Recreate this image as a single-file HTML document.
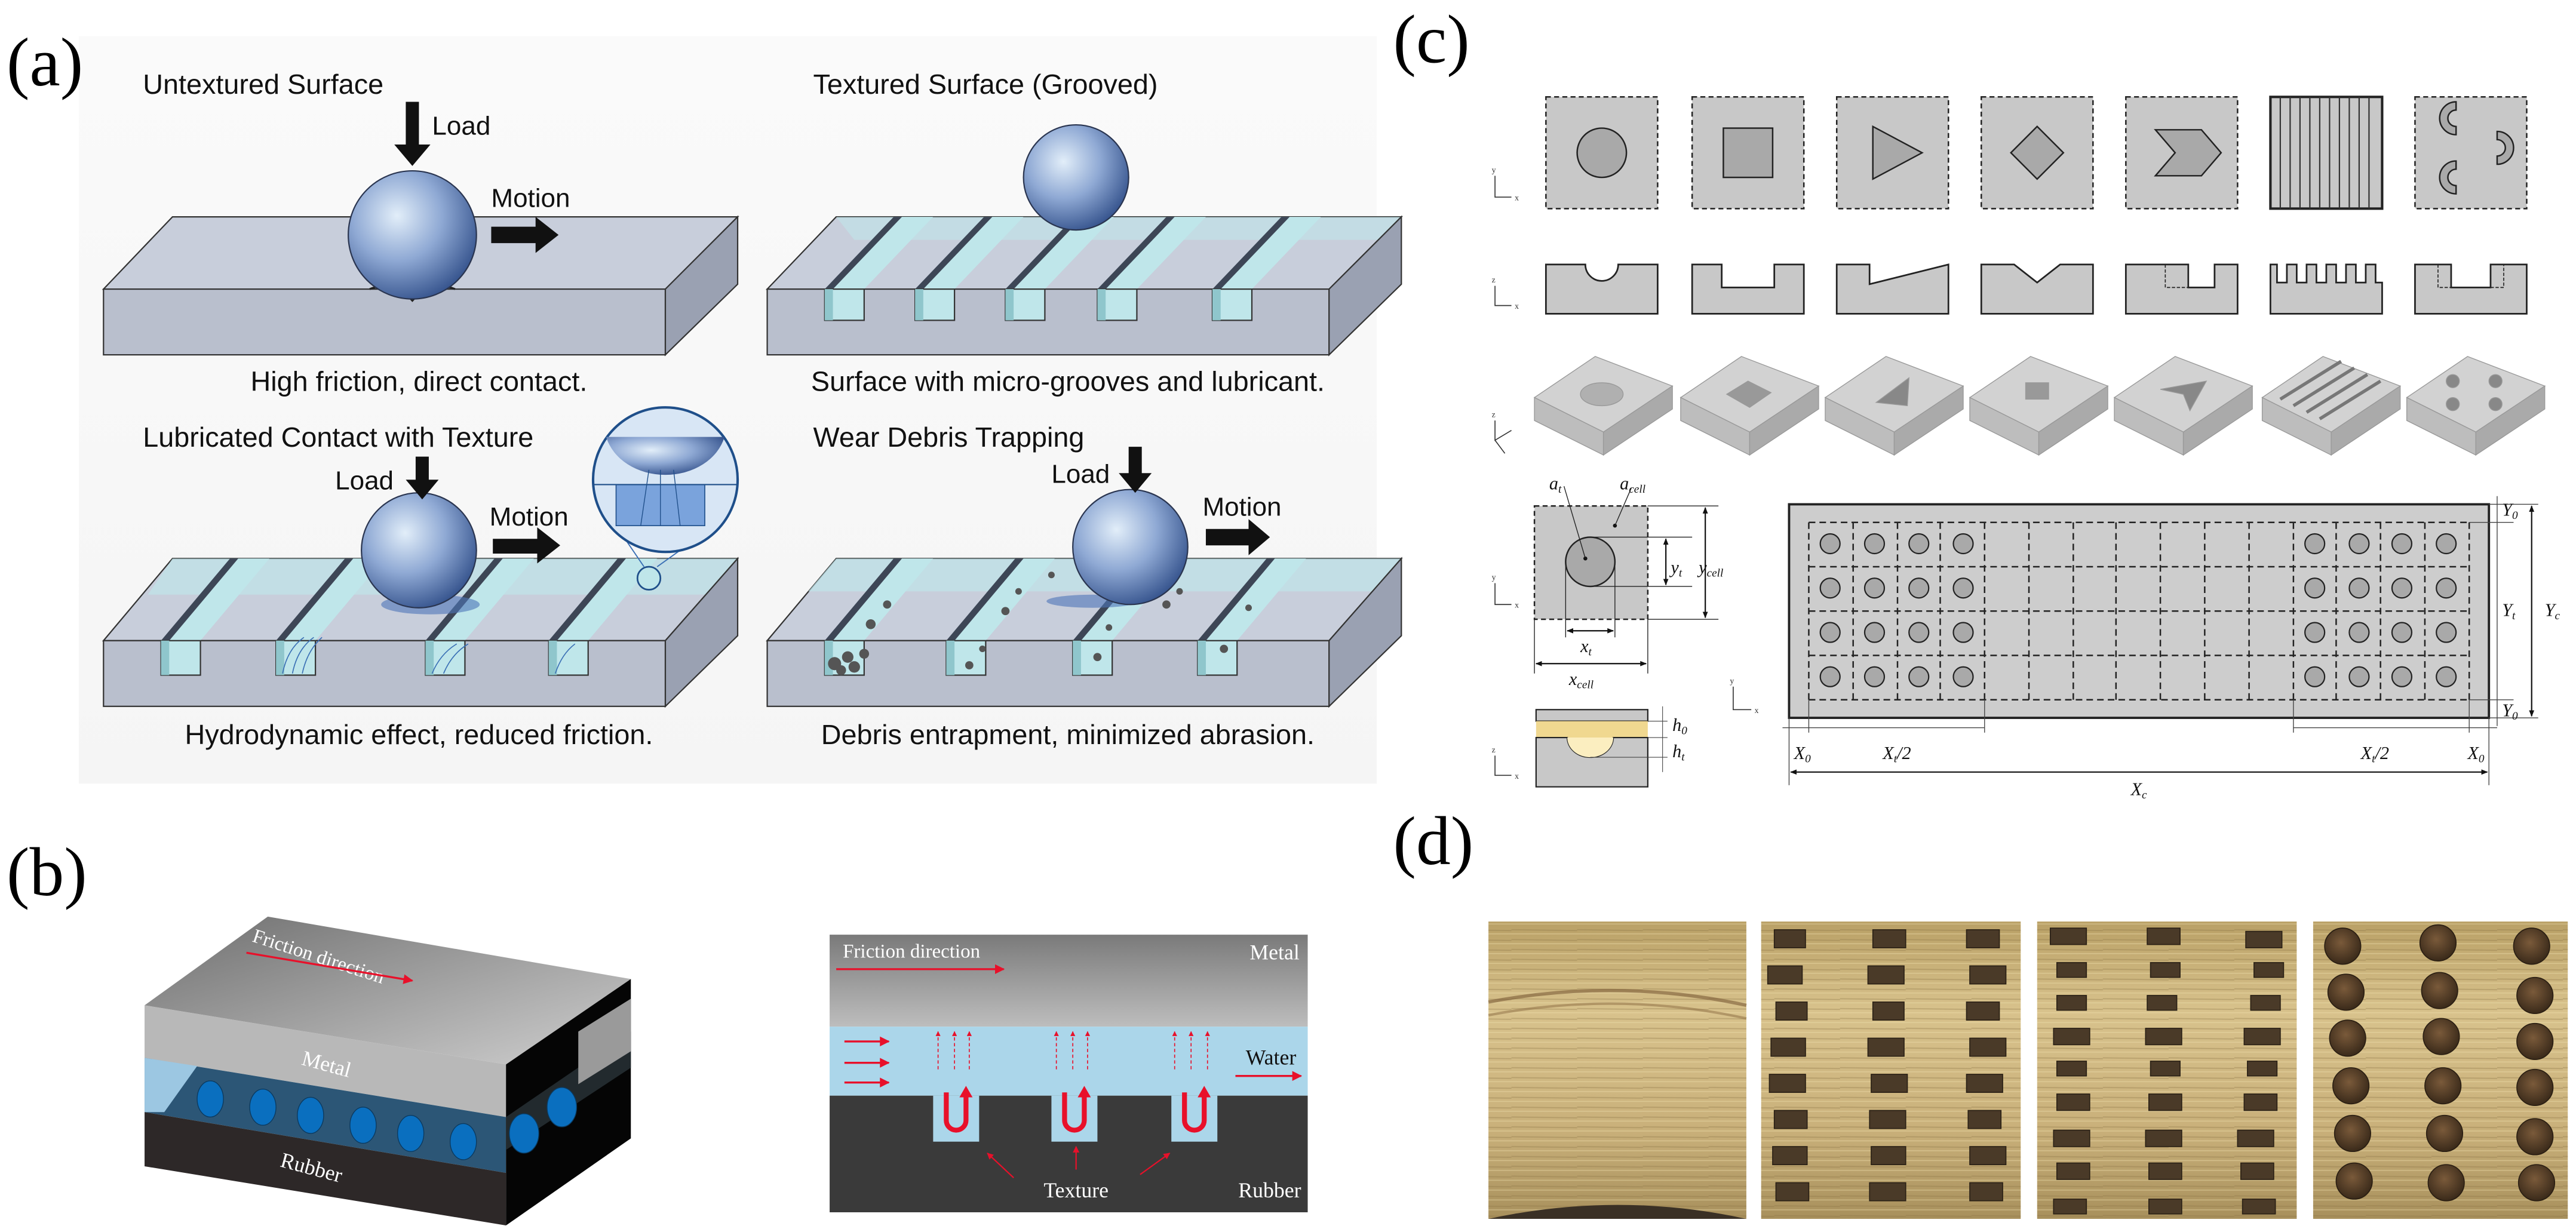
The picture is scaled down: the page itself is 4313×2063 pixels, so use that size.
<!DOCTYPE html>
<html><head><meta charset="utf-8"><style>
html,body{margin:0;padding:0;background:#fff;}
svg{display:block;}
.s{font-family:"Liberation Sans Narrow","Liberation Sans",sans-serif;fill:#111;}
.r{font-family:"Liberation Serif",serif;}
</style></head><body>
<svg width="4313" height="2063" viewBox="0 0 1568 750" preserveAspectRatio="none" xmlns="http://www.w3.org/2000/svg">
<defs>
<radialGradient id="sph" cx="38%" cy="35%" r="70%">
<stop offset="0" stop-color="#e2eef9"/><stop offset="0.5" stop-color="#8fa9d4"/><stop offset="1" stop-color="#34528c"/></radialGradient>
<linearGradient id="bgA" x1="0" y1="0" x2="0" y2="1"><stop offset="0" stop-color="#fafafa"/><stop offset="1" stop-color="#f5f5f5"/></linearGradient>
<linearGradient id="metal" x1="0" y1="0" x2="0" y2="1"><stop offset="0" stop-color="#7a7a7a"/><stop offset="1" stop-color="#bdbdbd"/></linearGradient>
<linearGradient id="metal3" x1="0" y1="0" x2="1" y2="1"><stop offset="0" stop-color="#6f6f6f"/><stop offset="1" stop-color="#cfcfcf"/></linearGradient>
<linearGradient id="photo" x1="0" y1="0" x2="0" y2="1"><stop offset="0" stop-color="#b9a066"/><stop offset="0.3" stop-color="#d8c28c"/><stop offset="0.7" stop-color="#c9b07a"/><stop offset="1" stop-color="#a8905c"/></linearGradient>
<pattern id="streak" width="40" height="6" patternUnits="userSpaceOnUse"><rect width="40" height="6" fill="none"/><line x1="0" y1="2" x2="40" y2="2.5" stroke="#8a7245" stroke-opacity="0.35" stroke-width="0.7"/><line x1="0" y1="4.5" x2="40" y2="4.5" stroke="#f0e0b0" stroke-opacity="0.4" stroke-width="0.6"/></pattern>
<radialGradient id="dimp" cx="45%" cy="40%" r="60%"><stop offset="0" stop-color="#7a5a3a"/><stop offset="1" stop-color="#3a2a1a"/></radialGradient>
<g id="gT"><polygon points="0,176 24,176 66,132 42,132" fill="#bfe6ea"/><polygon points="0,176 42,132 47,132 5,176" fill="#3d4656"/><rect x="0" y="176" width="24" height="19" fill="#bfe6ea" stroke="#333" stroke-width="0.8"/><polygon points="0,176 5,176 5,195 0,195" fill="#8fc6cc"/></g>
<g id="gB"><polygon points="0,390 24,390 66,340 42,340" fill="#bfe6ea"/><polygon points="0,390 42,340 47,340 5,390" fill="#3d4656"/><rect x="0" y="390" width="24" height="21" fill="#bfe6ea" stroke="#333" stroke-width="0.8"/><polygon points="0,390 5,390 5,411 0,411" fill="#8fc6cc"/></g>
<marker id="ra" viewBox="0 0 10 10" refX="9" refY="5" markerWidth="5" markerHeight="5" orient="auto"><path d="M0,0L10,5L0,10z" fill="#e8102a"/></marker>
<marker id="ka" viewBox="0 0 10 10" refX="9" refY="5" markerWidth="5" markerHeight="5" orient="auto-start-reverse"><path d="M0,1L10,5L0,9z" fill="#111"/></marker>
</defs>
<rect width="1568" height="750" fill="#fff"/>
<!-- panel a -->
<rect x="48" y="22" width="790" height="455" fill="url(#bgA)"/>
<text x="4" y="52" class="r" font-size="42">(a)</text>
<text x="87" y="57" class="s" font-size="17">Untextured Surface</text>
<text x="495" y="57" class="s" font-size="17">Textured Surface (Grooved)</text>
<text x="87" y="272" class="s" font-size="17">Lubricated Contact with Texture</text>
<text x="495" y="272" class="s" font-size="17">Wear Debris Trapping</text>
<text x="255" y="238" class="s" font-size="17" text-anchor="middle">High friction, direct contact.</text>
<text x="650" y="238" class="s" font-size="17" text-anchor="middle">Surface with micro-grooves and lubricant.</text>
<text x="255" y="453" class="s" font-size="17" text-anchor="middle">Hydrodynamic effect, reduced friction.</text>
<text x="650" y="453" class="s" font-size="17" text-anchor="middle">Debris entrapment, minimized abrasion.</text>
<!-- block A -->
<polygon points="63,176 105,132 449,132 405,176" fill="#c8cedb" stroke="#333" stroke-width="0.8"/>
<rect x="63" y="176" width="342" height="40" fill="#b9bfcd" stroke="#333" stroke-width="0.8"/>
<polygon points="405,176 449,132 449,173 405,216" fill="#9aa1b2" stroke="#333" stroke-width="0.8"/>
<path d="M225,176 Q240,170 251,183 Q262,170 277,176" fill="none" stroke="#222" stroke-width="1.2"/>
<circle cx="251" cy="143" r="39" fill="url(#sph)" stroke="#2a3550" stroke-width="0.8"/>
<polygon points="247,62 255,62 255,88 262,88 251,101 240,88 247,88" fill="#111"/>
<text x="263" y="82" class="s" font-size="16">Load</text>
<text x="299" y="126" class="s" font-size="16">Motion</text>
<polygon points="299,138 326,138 326,132 340,143 326,154 326,148 299,148" fill="#111"/>
<!-- block B -->
<polygon points="467,176 509,132 853,132 809,176" fill="#c8cedb" stroke="#333" stroke-width="0.8"/>
<polygon points="509,132 853,132 840,146 520,146" fill="#bfe6ea" opacity="0.6"/>
<rect x="467" y="176" width="342" height="40" fill="#b9bfcd" stroke="#333" stroke-width="0.8"/>
<polygon points="809,176 853,132 853,173 809,216" fill="#9aa1b2" stroke="#333" stroke-width="0.8"/>
<use href="#gT" x="502"/><use href="#gT" x="557"/><use href="#gT" x="612"/><use href="#gT" x="668"/><use href="#gT" x="738"/>
<circle cx="655" cy="108" r="32" fill="url(#sph)" stroke="#2a3550" stroke-width="0.8"/>
<!-- block C -->
<polygon points="63,390 105,340 449,340 405,390" fill="#c8cedb" stroke="#333" stroke-width="0.8"/>
<polygon points="105,340 449,340 430,362 90,362" fill="#bfe6ea" opacity="0.7"/>
<rect x="63" y="390" width="342" height="40" fill="#b9bfcd" stroke="#333" stroke-width="0.8"/>
<polygon points="405,390 449,340 449,387 405,430" fill="#9aa1b2" stroke="#333" stroke-width="0.8"/>
<use href="#gB" x="98"/><use href="#gB" x="168"/><use href="#gB" x="259"/><use href="#gB" x="334"/>
<g stroke="#3a6fb5" stroke-width="0.6" fill="none"><path d="M172,410 Q175,395 185,388"/><path d="M178,410 Q181,395 191,388"/><path d="M184,410 Q187,396 196,388"/><path d="M263,410 Q268,398 278,392"/><path d="M270,410 Q275,398 285,392"/><path d="M338,410 Q342,398 350,392"/></g>
<ellipse cx="262" cy="368" rx="30" ry="6" fill="#4d74b8" opacity="0.6"/>
<circle cx="255" cy="335" r="35" fill="url(#sph)" stroke="#2a3550" stroke-width="0.8"/>
<polygon points="253,278 261,278 261,292 267,292 257,304 247,292 253,292" fill="#111"/>
<text x="204" y="298" class="s" font-size="16">Load</text>
<text x="298" y="320" class="s" font-size="16">Motion</text>
<polygon points="300,328 327,328 327,321 341,332 327,343 327,337 300,337" fill="#111"/>
<line x1="375" y1="320" x2="392" y2="345" stroke="#3a6fb5" stroke-width="0.7"/>
<line x1="435" y1="320" x2="400" y2="345" stroke="#3a6fb5" stroke-width="0.7"/>
<circle cx="395" cy="352" r="7" fill="#bfe6ea" stroke="#1f4f8a" stroke-width="1"/>
<circle cx="405" cy="292" r="44" fill="#d8e6f5" stroke="#1f4f8a" stroke-width="1.5"/>
<path d="M369,266 A37,30 0 0 0 441,266 Z" fill="url(#sph)"/>
<rect x="375" y="295" width="54" height="25" fill="#7aa3dc" stroke="#1f4f8a" stroke-width="0.6"/>
<line x1="361" y1="295" x2="449" y2="295" stroke="#1f4f8a" stroke-width="0.8"/>
<g stroke="#1f4f8a" stroke-width="0.5"><line x1="390" y1="320" x2="395" y2="286"/><line x1="402" y1="320" x2="402" y2="286"/><line x1="414" y1="320" x2="410" y2="286"/></g>
<!-- block D -->
<polygon points="467,390 509,340 853,340 809,390" fill="#c8cedb" stroke="#333" stroke-width="0.8"/>
<polygon points="509,340 853,340 835,360 492,360" fill="#bfe6ea" opacity="0.7"/>
<rect x="467" y="390" width="342" height="40" fill="#b9bfcd" stroke="#333" stroke-width="0.8"/>
<polygon points="809,390 853,340 853,387 809,430" fill="#9aa1b2" stroke="#333" stroke-width="0.8"/>
<use href="#gB" x="502"/><use href="#gB" x="576"/><use href="#gB" x="653"/><use href="#gB" x="729"/>
<g fill="#555"><circle cx="508" cy="404" r="4"/><circle cx="516" cy="400" r="3.5"/><circle cx="512" cy="408" r="3"/><circle cx="520" cy="406" r="3.5"/><circle cx="526" cy="398" r="3"/><circle cx="530" cy="380" r="3"/><circle cx="540" cy="368" r="2.5"/><circle cx="590" cy="405" r="2.5"/><circle cx="598" cy="395" r="2"/><circle cx="612" cy="372" r="2.5"/><circle cx="620" cy="360" r="2"/><circle cx="668" cy="400" r="2.5"/><circle cx="675" cy="382" r="2"/><circle cx="710" cy="368" r="2.5"/><circle cx="718" cy="360" r="2"/><circle cx="745" cy="395" r="2.5"/><circle cx="760" cy="370" r="2"/><circle cx="640" cy="350" r="2"/></g>
<ellipse cx="665" cy="366" rx="28" ry="4" fill="#4d74b8" opacity="0.6"/>
<circle cx="688" cy="333" r="35" fill="url(#sph)" stroke="#2a3550" stroke-width="0.8"/>
<polygon points="687,272 695,272 695,288 701,288 691,300 681,288 687,288" fill="#111"/>
<text x="640" y="294" class="s" font-size="16">Load</text>
<text x="732" y="314" class="s" font-size="16">Motion</text>
<polygon points="734,322 760,322 760,316 773,327 760,338 760,332 734,332" fill="#111"/>
<!-- panel b -->
<text x="4" y="545" class="r" font-size="42">(b)</text>
<polygon points="163,558 384,596 308,648 88,612" fill="url(#metal3)"/>
<polygon points="88,612 308,648 308,680 88,644" fill="#b8b8b8"/>
<polygon points="88,644 308,680 308,714 88,677" fill="#2c5676"/>
<polygon points="88,644 120,649 100,677 88,677" fill="#9cc7e2"/>
<polygon points="88,677 308,714 308,746 88,710" fill="#2d2828"/>
<polygon points="308,648 384,596 384,693 308,746" fill="#050505"/>
<polygon points="308,680 384,628 384,650 308,700" fill="#222a2e"/>
<polygon points="352,628 384,608 384,640 352,660" fill="#9a9a9a"/>
<g fill="#0a6fbf" stroke="#0a3a60" stroke-width="0.5">
<ellipse cx="128" cy="669" rx="8" ry="11"/><ellipse cx="160" cy="674" rx="8" ry="11"/><ellipse cx="189" cy="679" rx="8" ry="11"/><ellipse cx="221" cy="685" rx="8" ry="11"/><ellipse cx="250" cy="690" rx="8" ry="11"/><ellipse cx="282" cy="695" rx="8" ry="11"/><ellipse cx="319" cy="690" rx="9" ry="12"/><ellipse cx="342" cy="674" rx="9" ry="12"/></g>
<text x="0" y="0" class="r" font-size="12" fill="#fff" transform="translate(153,573) rotate(18)">Friction direction</text>
<line x1="150" y1="580" x2="251" y2="597" stroke="#e8102a" stroke-width="1.2" marker-end="url(#ra)"/>
<text x="0" y="0" class="r" font-size="13" fill="#fff" transform="translate(183,648) rotate(15)">Metal</text>
<text x="0" y="0" class="r" font-size="13" fill="#fff" transform="translate(170,710) rotate(15)">Rubber</text>
<rect x="505" y="569" width="291" height="56" fill="url(#metal)"/>
<rect x="505" y="625" width="291" height="42" fill="#abd6ea"/>
<rect x="505" y="667" width="291" height="71" fill="#3a3a3a"/>
<rect x="568" y="667" width="28" height="28" fill="#abd6ea"/><rect x="640" y="667" width="28" height="28" fill="#abd6ea"/><rect x="713" y="667" width="28" height="28" fill="#abd6ea"/>
<g fill="none" stroke="#e8102a" stroke-width="3"><path d="M576,665 V682 A6,6 0 0 0 588,682 V668"/><path d="M648,665 V682 A6,6 0 0 0 660,682 V668"/><path d="M721,665 V682 A6,6 0 0 0 733,682 V668"/></g>
<g fill="#e8102a"><polygon points="584,668 592,668 588,661"/><polygon points="656,668 664,668 660,661"/><polygon points="729,668 737,668 733,661"/></g>
<text x="513" y="583" class="r" font-size="12" fill="#fff">Friction direction</text>
<line x1="509" y1="590" x2="611" y2="590" stroke="#e8102a" stroke-width="1.2" marker-end="url(#ra)"/>
<text x="791" y="584" class="r" font-size="13" fill="#fff" text-anchor="end">Metal</text>
<text x="789" y="648" class="r" font-size="13" fill="#111" text-anchor="end">Water</text>
<line x1="752" y1="655" x2="792" y2="655" stroke="#e8102a" stroke-width="1.2" marker-end="url(#ra)"/>
<g stroke="#e8102a" stroke-width="1.2"><line x1="514" y1="634" x2="541" y2="634" marker-end="url(#ra)"/><line x1="514" y1="647" x2="541" y2="647" marker-end="url(#ra)"/><line x1="514" y1="659" x2="541" y2="659" marker-end="url(#ra)"/></g>
<g stroke="#e8102a" stroke-width="0.6" stroke-dasharray="2,1.5"><line x1="571" y1="651" x2="571" y2="628" marker-end="url(#ra)"/><line x1="581" y1="651" x2="581" y2="628" marker-end="url(#ra)"/><line x1="590" y1="651" x2="590" y2="628" marker-end="url(#ra)"/><line x1="643" y1="651" x2="643" y2="628" marker-end="url(#ra)"/><line x1="653" y1="651" x2="653" y2="628" marker-end="url(#ra)"/><line x1="662" y1="651" x2="662" y2="628" marker-end="url(#ra)"/><line x1="715" y1="651" x2="715" y2="628" marker-end="url(#ra)"/><line x1="725" y1="651" x2="725" y2="628" marker-end="url(#ra)"/><line x1="735" y1="651" x2="735" y2="628" marker-end="url(#ra)"/></g>
<g stroke="#e8102a" stroke-width="0.8"><line x1="617" y1="717" x2="601" y2="702" marker-end="url(#ra)"/><line x1="655" y1="712" x2="655" y2="698" marker-end="url(#ra)"/><line x1="694" y1="715" x2="712" y2="702" marker-end="url(#ra)"/></g>
<text x="655" y="729" class="r" font-size="13" fill="#fff" text-anchor="middle">Texture</text>
<text x="792" y="729" class="r" font-size="13" fill="#fff" text-anchor="end">Rubber</text>
<!-- panel c -->
<text x="848" y="38" class="r" font-size="42">(c)</text>
<g fill="#c8c8c8" stroke="#222" stroke-width="0.9" stroke-dasharray="3,2">
<rect x="941" y="59" width="68" height="68"/><rect x="1030" y="59" width="68" height="68"/><rect x="1118" y="59" width="68" height="68"/><rect x="1206" y="59" width="68" height="68"/><rect x="1294" y="59" width="68" height="68"/><rect x="1470" y="59" width="68" height="68"/></g>
<rect x="1382" y="59" width="68" height="68" fill="#c8c8c8" stroke="#222" stroke-width="1.5"/>
<g stroke="#333" stroke-width="0.8">
<line x1="1388" y1="59" x2="1388" y2="127"/><line x1="1394" y1="59" x2="1394" y2="127"/><line x1="1400" y1="59" x2="1400" y2="127"/><line x1="1406" y1="59" x2="1406" y2="127"/><line x1="1412" y1="59" x2="1412" y2="127"/><line x1="1418" y1="59" x2="1418" y2="127"/><line x1="1424" y1="59" x2="1424" y2="127"/><line x1="1430" y1="59" x2="1430" y2="127"/><line x1="1436" y1="59" x2="1436" y2="127"/><line x1="1442" y1="59" x2="1442" y2="127"/></g>
<g fill="#a9a9a9" stroke="#222" stroke-width="0.9">
<circle cx="975" cy="93" r="15"/><rect x="1049" y="78" width="30" height="30"/><polygon points="1140,77 1170,93 1140,109"/><polygon points="1240,77 1256,93 1240,109 1224,93"/><polygon points="1312,79 1340,79 1352,93 1340,107 1312,107 1324,93"/>
<path d="M1495,62 A10,10 0 0 0 1495,82 L1495,77 A5,5 0 0 1 1495,67 Z"/><path d="M1520,80 A10,10 0 0 1 1520,100 L1520,95 A5,5 0 0 0 1520,85 Z"/><path d="M1495,98 A10,10 0 0 0 1495,118 L1495,113 A5,5 0 0 1 1495,103 Z"/></g>
<g fill="#c8c8c8" stroke="#222" stroke-width="1">
<path d="M941,161 H965 A10,10 0 0 0 985,161 H1009 V191 H941 Z"/>
<path d="M1030,161 H1048 V175 H1080 V161 H1098 V191 H1030 Z"/>
<path d="M1118,161 H1138 V173 L1186,161 V191 H1118 Z"/>
<path d="M1206,161 H1226 L1240,172 L1254,161 H1274 V191 H1206 Z"/>
<path d="M1294,161 H1332 V175 H1348 V161 H1362 V191 H1294 Z"/>
<path d="M1382,161 H1386 V172 H1392 V161 H1398 V172 H1404 V161 H1410 V172 H1416 V161 H1422 V172 H1428 V161 H1434 V172 H1440 V161 H1446 V172 H1450 V191 H1382 Z"/>
<path d="M1470,161 H1492 V175 H1516 V161 H1538 V191 H1470 Z"/></g>
<g stroke="#222" stroke-width="0.6" stroke-dasharray="2,1" fill="none"><path d="M1318,161 V175 H1332"/><path d="M1484,161 V175 H1492 M1516,175 H1524 V161"/></g>
<!-- 3D row -->
<g stroke="#999" stroke-width="0.5">
<g><polygon points="934,242 971,217 1018,235 976,263" fill="#d2d2d2"/><polygon points="934,242 976,263 976,277 934,256" fill="#bdbdbd"/><polygon points="976,263 1018,235 1018,249 976,277" fill="#aaa"/><ellipse cx="975" cy="240" rx="13" ry="7" fill="#b0b0b0"/></g>
<g transform="translate(89,0)"><polygon points="934,242 971,217 1018,235 976,263" fill="#d2d2d2"/><polygon points="934,242 976,263 976,277 934,256" fill="#bdbdbd"/><polygon points="976,263 1018,235 1018,249 976,277" fill="#aaa"/><polygon points="962,240 975,232 989,239 976,248" fill="#999"/></g>
<g transform="translate(177,0)"><polygon points="934,242 971,217 1018,235 976,263" fill="#d2d2d2"/><polygon points="934,242 976,263 976,277 934,256" fill="#bdbdbd"/><polygon points="976,263 1018,235 1018,249 976,277" fill="#aaa"/><polygon points="965,245 985,230 984,247" fill="#888"/></g>
<g transform="translate(265,0)"><polygon points="934,242 971,217 1018,235 976,263" fill="#d2d2d2"/><polygon points="934,242 976,263 976,277 934,256" fill="#bdbdbd"/><polygon points="976,263 1018,235 1018,249 976,277" fill="#aaa"/><rect x="968" y="233" width="14" height="10" fill="#999"/></g>
<g transform="translate(353,0)"><polygon points="934,242 971,217 1018,235 976,263" fill="#d2d2d2"/><polygon points="934,242 976,263 976,277 934,256" fill="#bdbdbd"/><polygon points="976,263 1018,235 1018,249 976,277" fill="#aaa"/><polygon points="962,237 990,232 980,250 976,240" fill="#888"/></g>
<g transform="translate(443,0)"><polygon points="934,242 971,217 1018,235 976,263" fill="#d2d2d2"/><polygon points="934,242 976,263 976,277 934,256" fill="#bdbdbd"/><polygon points="976,263 1018,235 1018,249 976,277" fill="#aaa"/><g stroke="#777" stroke-width="2"><line x1="945" y1="243" x2="982" y2="220"/><line x1="953" y1="247" x2="990" y2="224"/><line x1="961" y1="251" x2="998" y2="228"/><line x1="969" y1="255" x2="1006" y2="232"/></g></g>
<g transform="translate(531,0)"><polygon points="934,242 971,217 1018,235 976,263" fill="#d2d2d2"/><polygon points="934,242 976,263 976,277 934,256" fill="#bdbdbd"/><polygon points="976,263 1018,235 1018,249 976,277" fill="#aaa"/><g fill="#888"><circle cx="962" cy="232" r="4"/><circle cx="988" cy="232" r="4"/><circle cx="962" cy="246" r="4"/><circle cx="988" cy="246" r="4"/></g></g></g>
<!-- axes -->
<g stroke="#333" stroke-width="0.6" fill="none"><path d="M910,107 V120 H920"/><path d="M910,174 V186 H920"/><path d="M910,256 V268 L920,262 M910,268 L916,276"/><path d="M910,355 V368 H920"/><path d="M910,460 V472 H920"/><path d="M1055,418 V432 H1066"/></g>
<g font-family="Liberation Serif,serif" font-size="5" fill="#333"><text x="908" y="105">y</text><text x="922" y="122">x</text><text x="908" y="172">z</text><text x="922" y="188">x</text><text x="908" y="254">z</text><text x="908" y="353">y</text><text x="922" y="370">x</text><text x="908" y="458">z</text><text x="922" y="474">x</text><text x="1053" y="416">y</text><text x="1068" y="434">x</text></g>
<!-- unit cell -->
<rect x="934" y="308" width="69" height="69" fill="#c8c8c8" stroke="#222" stroke-width="0.9" stroke-dasharray="3,2"/>
<circle cx="968" cy="342" r="15" fill="#a9a9a9" stroke="#222" stroke-width="0.9"/>
<circle cx="965" cy="340" r="1.2" fill="#111"/><circle cx="983" cy="320" r="1.2" fill="#111"/>
<g stroke="#222" stroke-width="0.5"><line x1="952" y1="296" x2="965" y2="340"/><line x1="993" y1="297" x2="983" y2="320"/><line x1="968" y1="327" x2="1030" y2="327"/><line x1="968" y1="357" x2="1030" y2="357"/><line x1="1003" y1="308" x2="1046" y2="308"/><line x1="1003" y1="377" x2="1046" y2="377"/><line x1="953" y1="342" x2="953" y2="388"/><line x1="983" y1="342" x2="983" y2="388"/><line x1="934" y1="377" x2="934" y2="410"/><line x1="1003" y1="377" x2="1003" y2="410"/></g>
<g stroke="#111" stroke-width="0.8"><line x1="1014" y1="328" x2="1014" y2="356" marker-start="url(#ka)" marker-end="url(#ka)"/><line x1="1038" y1="309" x2="1038" y2="376" marker-start="url(#ka)" marker-end="url(#ka)"/><line x1="954" y1="384" x2="982" y2="384" marker-start="url(#ka)" marker-end="url(#ka)"/><line x1="935" y1="404" x2="1002" y2="404" marker-start="url(#ka)" marker-end="url(#ka)"/></g>
<g font-family="Liberation Serif,serif" font-style="italic" font-size="11" fill="#111"><text x="943" y="298">a<tspan font-size="7" dy="2">t</tspan></text><text x="986" y="298">a<tspan font-size="7" dy="2">cell</tspan></text><text x="1017" y="349">y<tspan font-size="7" dy="2">t</tspan></text><text x="1034" y="349">y<tspan font-size="7" dy="2">cell</tspan></text><text x="962" y="397">x<tspan font-size="7" dy="2">t</tspan></text><text x="955" y="417">x<tspan font-size="7" dy="2">cell</tspan></text><text x="1018" y="445">h<tspan font-size="7" dy="2">0</tspan></text><text x="1018" y="461">h<tspan font-size="7" dy="2">t</tspan></text></g>
<rect x="935" y="432" width="68" height="7" fill="#c8c8c8" stroke="#222" stroke-width="0.8"/>
<rect x="935" y="439" width="68" height="10" fill="#f0d890"/>
<path d="M935,449 H954 A14,12 0 0 0 982,449 H1003 V479 H935 Z" fill="#c8c8c8" stroke="#222" stroke-width="0.8"/>
<path d="M954,449 A14,12 0 0 0 982,449 Z" fill="#fbeec0"/>
<g stroke="#444" stroke-width="0.4"><line x1="1003" y1="439" x2="1015" y2="439"/><line x1="1003" y1="449" x2="1015" y2="449"/><line x1="968" y1="461" x2="1015" y2="461"/><line x1="1012" y1="430" x2="1012" y2="470"/></g>
<!-- array -->
<rect x="1089" y="307" width="426" height="130" fill="#cdcdcd" stroke="#222" stroke-width="1.4"/>
<g stroke="#222" stroke-width="0.9" stroke-dasharray="4,2.5" fill="none">
<line x1="1101" y1="318" x2="1503" y2="318"/><line x1="1101" y1="345" x2="1503" y2="345"/><line x1="1101" y1="372" x2="1503" y2="372"/><line x1="1101" y1="399" x2="1503" y2="399"/><line x1="1101" y1="426" x2="1503" y2="426"/>
<line x1="1101" y1="318" x2="1101" y2="426"/><line x1="1128" y1="318" x2="1128" y2="426"/><line x1="1155" y1="318" x2="1155" y2="426"/><line x1="1181" y1="318" x2="1181" y2="426"/><line x1="1208" y1="318" x2="1208" y2="426"/><line x1="1235" y1="318" x2="1235" y2="426"/><line x1="1262" y1="318" x2="1262" y2="426"/><line x1="1288" y1="318" x2="1288" y2="426"/><line x1="1315" y1="318" x2="1315" y2="426"/><line x1="1342" y1="318" x2="1342" y2="426"/><line x1="1369" y1="318" x2="1369" y2="426"/><line x1="1396" y1="318" x2="1396" y2="426"/><line x1="1422" y1="318" x2="1422" y2="426"/><line x1="1449" y1="318" x2="1449" y2="426"/><line x1="1476" y1="318" x2="1476" y2="426"/><line x1="1503" y1="318" x2="1503" y2="426"/></g>
<g fill="#a9a9a9" stroke="#222" stroke-width="0.8">
<circle cx="1114" cy="331" r="6"/><circle cx="1141" cy="331" r="6"/><circle cx="1168" cy="331" r="6"/><circle cx="1195" cy="331" r="6"/><circle cx="1409" cy="331" r="6"/><circle cx="1436" cy="331" r="6"/><circle cx="1462" cy="331" r="6"/><circle cx="1489" cy="331" r="6"/>
<circle cx="1114" cy="358" r="6"/><circle cx="1141" cy="358" r="6"/><circle cx="1168" cy="358" r="6"/><circle cx="1195" cy="358" r="6"/><circle cx="1409" cy="358" r="6"/><circle cx="1436" cy="358" r="6"/><circle cx="1462" cy="358" r="6"/><circle cx="1489" cy="358" r="6"/>
<circle cx="1114" cy="385" r="6"/><circle cx="1141" cy="385" r="6"/><circle cx="1168" cy="385" r="6"/><circle cx="1195" cy="385" r="6"/><circle cx="1409" cy="385" r="6"/><circle cx="1436" cy="385" r="6"/><circle cx="1462" cy="385" r="6"/><circle cx="1489" cy="385" r="6"/>
<circle cx="1114" cy="412" r="6"/><circle cx="1141" cy="412" r="6"/><circle cx="1168" cy="412" r="6"/><circle cx="1195" cy="412" r="6"/><circle cx="1409" cy="412" r="6"/><circle cx="1436" cy="412" r="6"/><circle cx="1462" cy="412" r="6"/><circle cx="1489" cy="412" r="6"/></g>
<g stroke="#444" stroke-width="0.5"><line x1="1089" y1="437" x2="1089" y2="478"/><line x1="1515" y1="437" x2="1515" y2="478"/><line x1="1085" y1="443" x2="1208" y2="443"/><line x1="1396" y1="443" x2="1520" y2="443"/><line x1="1101" y1="426" x2="1101" y2="446"/><line x1="1208" y1="426" x2="1208" y2="446"/><line x1="1396" y1="426" x2="1396" y2="446"/><line x1="1503" y1="426" x2="1503" y2="446"/><line x1="1503" y1="318" x2="1530" y2="318"/><line x1="1503" y1="426" x2="1530" y2="426"/><line x1="1515" y1="307" x2="1545" y2="307"/><line x1="1515" y1="437" x2="1545" y2="437"/><line x1="1520" y1="302" x2="1520" y2="442"/></g>
<g stroke="#111" stroke-width="0.8"><line x1="1090" y1="470" x2="1514" y2="470" marker-start="url(#ka)" marker-end="url(#ka)"/><line x1="1541" y1="308" x2="1541" y2="436" marker-start="url(#ka)" marker-end="url(#ka)"/></g>
<g font-family="Liberation Serif,serif" font-style="italic" font-size="11" fill="#111"><text x="1092" y="462">X<tspan font-size="7" dy="2">0</tspan></text><text x="1146" y="462">X<tspan font-size="7" dy="2">t</tspan><tspan dy="-2">/2</tspan></text><text x="1437" y="462">X<tspan font-size="7" dy="2">t</tspan><tspan dy="-2">/2</tspan></text><text x="1502" y="462">X<tspan font-size="7" dy="2">0</tspan></text><text x="1297" y="484">X<tspan font-size="7" dy="2">c</tspan></text><text x="1523" y="314">Y<tspan font-size="7" dy="2">0</tspan></text><text x="1523" y="436">Y<tspan font-size="7" dy="2">0</tspan></text><text x="1523" y="375">Y<tspan font-size="7" dy="2">t</tspan></text><text x="1549" y="375">Y<tspan font-size="7" dy="2">c</tspan></text></g>
<!-- panel d -->
<text x="848" y="526" class="r" font-size="42">(d)</text>
<g>
<rect x="906" y="561" width="157" height="181" fill="url(#photo)"/><rect x="906" y="561" width="157" height="181" fill="url(#streak)"/>
<path d="M906,610 Q985,595 1063,612" stroke="#7a5a35" stroke-width="2" fill="none" opacity="0.6"/><path d="M906,618 Q985,603 1063,620" stroke="#8a6a40" stroke-width="1.5" fill="none" opacity="0.5"/>
<path d="M906,742 Q985,725 1063,742 Z" fill="#3a3025"/>
<rect x="1072" y="561" width="158" height="181" fill="url(#photo)"/><rect x="1072" y="561" width="158" height="181" fill="url(#streak)"/>
<rect x="1240" y="561" width="158" height="181" fill="url(#photo)"/><rect x="1240" y="561" width="158" height="181" fill="url(#streak)"/>
<rect x="1408" y="561" width="155" height="181" fill="url(#photo)"/><rect x="1408" y="561" width="155" height="181" fill="url(#streak)"/>
<g fill="#4a3a28" stroke="#2a2015" stroke-width="0.6">
<rect x="1080" y="566" width="19" height="11"/><rect x="1076" y="588" width="21" height="11"/><rect x="1081" y="610" width="19" height="11"/><rect x="1078" y="632" width="21" height="11"/><rect x="1077" y="654" width="22" height="11"/><rect x="1080" y="676" width="20" height="11"/><rect x="1079" y="698" width="21" height="11"/><rect x="1081" y="720" width="20" height="11"/>
<rect x="1140" y="566" width="20" height="11"/><rect x="1137" y="588" width="22" height="11"/><rect x="1140" y="610" width="19" height="11"/><rect x="1137" y="632" width="22" height="11"/><rect x="1139" y="654" width="22" height="11"/><rect x="1138" y="676" width="22" height="11"/><rect x="1139" y="698" width="21" height="11"/><rect x="1138" y="720" width="22" height="11"/>
<rect x="1197" y="566" width="20" height="11"/><rect x="1199" y="588" width="22" height="11"/><rect x="1197" y="610" width="20" height="11"/><rect x="1199" y="632" width="22" height="11"/><rect x="1197" y="654" width="22" height="11"/><rect x="1198" y="676" width="20" height="11"/><rect x="1199" y="698" width="22" height="11"/><rect x="1199" y="720" width="20" height="11"/>
<rect x="1248" y="565" width="22" height="10"/><rect x="1252" y="586" width="18" height="9"/><rect x="1252" y="606" width="18" height="9"/><rect x="1250" y="626" width="22" height="10"/><rect x="1252" y="646" width="18" height="9"/><rect x="1252" y="666" width="20" height="10"/><rect x="1250" y="688" width="22" height="10"/><rect x="1252" y="708" width="20" height="10"/><rect x="1250" y="730" width="20" height="9"/>
<rect x="1307" y="565" width="20" height="10"/><rect x="1309" y="586" width="18" height="9"/><rect x="1307" y="606" width="18" height="9"/><rect x="1306" y="626" width="22" height="10"/><rect x="1309" y="646" width="18" height="9"/><rect x="1308" y="666" width="20" height="10"/><rect x="1306" y="688" width="22" height="10"/><rect x="1308" y="708" width="20" height="10"/><rect x="1308" y="730" width="20" height="9"/>
<rect x="1367" y="567" width="22" height="10"/><rect x="1372" y="586" width="18" height="9"/><rect x="1370" y="606" width="18" height="9"/><rect x="1366" y="626" width="22" height="10"/><rect x="1368" y="646" width="18" height="9"/><rect x="1366" y="666" width="20" height="10"/><rect x="1362" y="688" width="22" height="10"/><rect x="1364" y="708" width="20" height="10"/><rect x="1365" y="730" width="20" height="9"/></g>
<g fill="url(#dimp)" stroke="#2a1e12" stroke-width="0.6">
<circle cx="1426" cy="576" r="11"/><circle cx="1484" cy="574" r="11"/><circle cx="1541" cy="576" r="11"/>
<circle cx="1428" cy="604" r="11"/><circle cx="1485" cy="603" r="11"/><circle cx="1543" cy="606" r="11"/>
<circle cx="1429" cy="632" r="11"/><circle cx="1486" cy="631" r="11"/><circle cx="1543" cy="634" r="11"/>
<circle cx="1431" cy="661" r="11"/><circle cx="1487" cy="661" r="11"/><circle cx="1543" cy="662" r="11"/>
<circle cx="1432" cy="690" r="11"/><circle cx="1488" cy="690" r="11"/><circle cx="1543" cy="692" r="11"/>
<circle cx="1433" cy="719" r="11"/><circle cx="1489" cy="720" r="11"/><circle cx="1544" cy="720" r="11"/></g>
</g>
</svg>
</body></html>
